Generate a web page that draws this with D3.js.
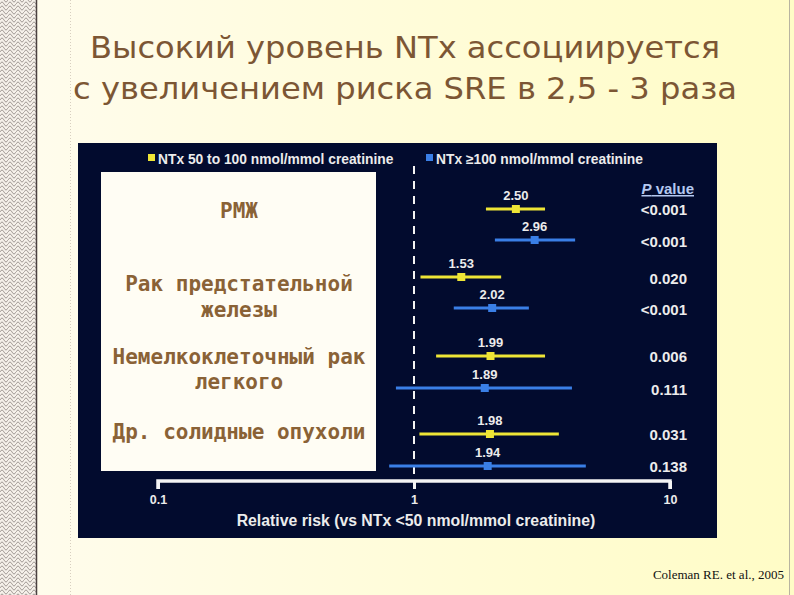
<!DOCTYPE html>
<html>
<head>
<meta charset="utf-8">
<script src="https://cdn.jsdelivr.net/npm/d3@7"></script>
<style>
  body { margin: 0; padding: 0; background: #fffdea; }
  svg { display: block; }
</style>
</head>
<body>
<div id="chart"></div>
<script>
// data
var titleLines = ["Высокий уровень NTx ассоциируется", "с увеличением риска SRE в 2,5 - 3 раза"];
var legendLabels = ["NTx 50 to 100 nmol/mmol creatinine", "NTx \u2265100 nmol/mmol creatinine"];
var groupLabels = [["РМЖ"], ["Рак предстательной", "железы"], ["Немелкоклеточный рак", "легкого"], ["Др. солидные опухоли"]];
var rowGroup  = [0, 0, 1, 1, 2, 2, 3, 3];
var rowSeries = [0, 1, 0, 1, 0, 1, 0, 1];
var rr      = [2.50, 2.96, 1.53, 2.02, 1.99, 1.89, 1.98, 1.94];
var ciLow   = [1.91, 2.07, 1.06, 1.43, 1.22, 0.85, 1.05, 0.80];
var ciHigh  = [3.25, 4.26, 2.19, 2.81, 3.25, 4.14, 3.68, 4.69];
var pValues = ["<0.001", "<0.001", "0.020", "<0.001", "0.006", "0.111", "0.031", "0.138"];
var axisTicks = [0.1, 1, 10];
var axisTitle = "Relative risk (vs NTx <50 nmol/mmol creatinine)";
var source = "Coleman RE. et al., 2005";

var W = 794, H = 595;
var seriesColor = ["#eee536", "#3a7fe6"];
var textCol = "#ececec";
var brown = "#7c5634";

var svg = d3.select("#chart").append("svg")
	.attr("width", W)
	.attr("height", H);

var defs = svg.append("defs");
var bg = defs.append("linearGradient").attr("id", "bg").attr("x1", 0).attr("x2", 1).attr("y1", 0).attr("y2", 0);
bg.append("stop").attr("offset", "0%").attr("stop-color", "#fffcee");
bg.append("stop").attr("offset", "100%").attr("stop-color", "#fffcc6");

// left chain border pattern
var pat = defs.append("pattern").attr("id", "chain")
	.attr("patternUnits", "userSpaceOnUse")
	.attr("width", 8).attr("height", 8);
pat.append("rect").attr("width", 8).attr("height", 8).attr("fill", "#f6f1ea");
pat.append("path")
	.attr("d", "M0,4 Q2,0 4,4 T8,4 M0,8 Q2,4 4,8 M4,0 Q6,4 8,0")
	.attr("fill", "none").attr("stroke", "#9a928c").attr("stroke-width", 0.9);

svg.append("rect").attr("width", W).attr("height", H).attr("fill", "url(#bg)");
svg.append("rect").attr("x", 0).attr("y", 0).attr("width", 36).attr("height", H).attr("fill", "url(#chain)");
svg.append("line").attr("x1", 36.5).attr("x2", 36.5).attr("y1", 0).attr("y2", H)
	.attr("stroke", "#4a4040").attr("stroke-width", 1.5);
svg.append("line").attr("x1", 70.5).attr("x2", 70.5).attr("y1", 0).attr("y2", H)
	.attr("stroke", "#d8cfc0").attr("stroke-width", 1).attr("stroke-dasharray", "1,2");
svg.append("line").attr("x1", 789.5).attr("x2", 789.5).attr("y1", 0).attr("y2", H)
	.attr("stroke", "#b8b4a0").attr("stroke-width", 1);

// title
var titleWidths = [630, 664];
var titleX = [405, 405];
svg.selectAll(".title")
	.data(titleLines)
	.enter()
	.append("text")
	.attr("class", "title")
	.attr("x", (d, i) => titleX[i])
	.attr("y", (d, i) => 58 + i * 41)
	.attr("text-anchor", "middle")
	.attr("textLength", (d, i) => titleWidths[i])
	.attr("lengthAdjust", "spacingAndGlyphs")
	.style("font-family", "'Comic Sans MS', 'DejaVu Sans', sans-serif")
	.style("font-size", "31px")
	.style("fill", brown)
	.text(d => d);

// dark panel
var panel = { x: 78, y: 143, w: 639, h: 395 };
svg.append("rect")
	.attr("x", panel.x).attr("y", panel.y)
	.attr("width", panel.w).attr("height", panel.h)
	.attr("fill", "#020b2e");

// legend
var legendX = [148, 426];
var legend = svg.selectAll(".legend")
	.data(legendLabels)
	.enter()
	.append("g")
	.attr("class", "legend")
	.attr("transform", (d, i) => "translate(" + legendX[i] + ",159)");
legend.append("rect")
	.attr("x", 0).attr("y", -5)
	.attr("width", 7).attr("height", 7)
	.attr("fill", (d, i) => seriesColor[i]);
legend.append("text")
	.attr("x", 10).attr("y", 4.5)
	.style("font-family", "'Liberation Sans', Arial, sans-serif")
	.style("font-weight", "bold")
	.style("font-size", "13.8px")
	.style("fill", textCol)
	.text(d => d);

// scales
var x = d3.scaleLog().domain([0.1, 10]).range([158, 670]);
var rowY = [209, 240, 277, 308, 356, 388, 434, 466];
var y = d3.scaleOrdinal().domain(d3.range(rr.length)).range(rowY);

// reference line at 1
svg.append("line")
	.attr("x1", x(1)).attr("x2", x(1))
	.attr("y1", 166).attr("y2", 480)
	.attr("stroke", "#f4f4f4").attr("stroke-width", 2)
	.attr("stroke-dasharray", "8,7");

// x axis
var axisY = 481;
var axis = svg.append("g")
	.attr("transform", "translate(0," + axisY + ")")
	.call(d3.axisBottom(x).tickValues(axisTicks).tickFormat(d3.format("")).tickSize(8).tickPadding(6));
axis.select(".domain").attr("stroke", "#f4f4f4").attr("stroke-width", 3.5)
	.attr("d", "M" + x(0.1) + ",8V0H" + x(10) + "V8");
axis.selectAll(".tick line").attr("stroke", "#f4f4f4").attr("stroke-width", 3);
axis.selectAll(".tick text")
	.style("font-family", "'Liberation Sans', Arial, sans-serif")
	.style("font-weight", "bold")
	.style("font-size", "12.5px")
	.style("fill", textCol);

svg.append("text")
	.attr("x", 416).attr("y", 526)
	.attr("text-anchor", "middle")
	.style("font-family", "'Liberation Sans', Arial, sans-serif")
	.style("font-weight", "bold")
	.style("font-size", "15.8px")
	.style("fill", textCol)
	.text(axisTitle);

// white label box
svg.append("rect")
	.attr("x", 101).attr("y", 172)
	.attr("width", 275).attr("height", 299)
	.attr("fill", "#fffdf4");

var groupLabelY = [[218], [291, 317], [364, 389], [439]];
groupLabels.forEach(function(lines, g) {
	svg.selectAll(".grp" + g)
		.data(lines)
		.enter()
		.append("text")
		.attr("x", 239)
		.attr("y", (d, i) => groupLabelY[g][i])
		.attr("text-anchor", "middle")
		.style("font-family", "'DejaVu Sans Mono', monospace")
		.style("font-weight", "bold")
		.style("font-size", "21px")
		.style("fill", "#8a6236")
		.text(d => d);
});

// CI lines + points
var rows = svg.selectAll(".row")
	.data(rr)
	.enter()
	.append("g")
	.attr("class", "row")
	.attr("transform", (d, i) => "translate(0," + y(i) + ")");
rows.append("line")
	.attr("x1", (d, i) => x(ciLow[i]))
	.attr("x2", (d, i) => x(ciHigh[i]))
	.attr("stroke", (d, i) => seriesColor[rowSeries[i]])
	.attr("stroke-width", 3);
rows.append("rect")
	.attr("x", d => x(d) - 4)
	.attr("y", -4)
	.attr("width", 8).attr("height", 8)
	.attr("fill", (d, i) => seriesColor[rowSeries[i]]);
rows.append("text")
	.attr("x", d => x(d))
	.attr("y", -9)
	.attr("text-anchor", "middle")
	.style("font-family", "'Liberation Sans', Arial, sans-serif")
	.style("font-weight", "bold")
	.style("font-size", "13px")
	.style("fill", textCol)
	.text(d => d3.format(".2f")(d));

// P values
svg.append("text")
	.attr("x", 694).attr("y", 194)
	.attr("text-anchor", "end")
	.style("font-family", "'Liberation Sans', Arial, sans-serif")
	.style("font-weight", "bold")
	.style("font-size", "15px")
	.style("fill", "#b4c8f0")
	.style("text-decoration", "underline")
	.html("<tspan font-style='italic'>P</tspan> value");

rows.append("text")
	.attr("x", 687)
	.attr("y", (d, i) => [6, 7, 7, 7, 6, 7, 6, 6][i])
	.attr("text-anchor", "end")
	.style("font-family", "'Liberation Sans', Arial, sans-serif")
	.style("font-weight", "bold")
	.style("font-size", "15px")
	.style("fill", textCol)
	.text((d, i) => pValues[i]);

// source note
svg.append("text")
	.attr("x", 784).attr("y", 579)
	.attr("text-anchor", "end")
	.style("font-family", "'Liberation Serif', 'Times New Roman', serif")
	.style("font-size", "13px")
	.style("fill", "#111")
	.text(source);
</script>
</body>
</html>
